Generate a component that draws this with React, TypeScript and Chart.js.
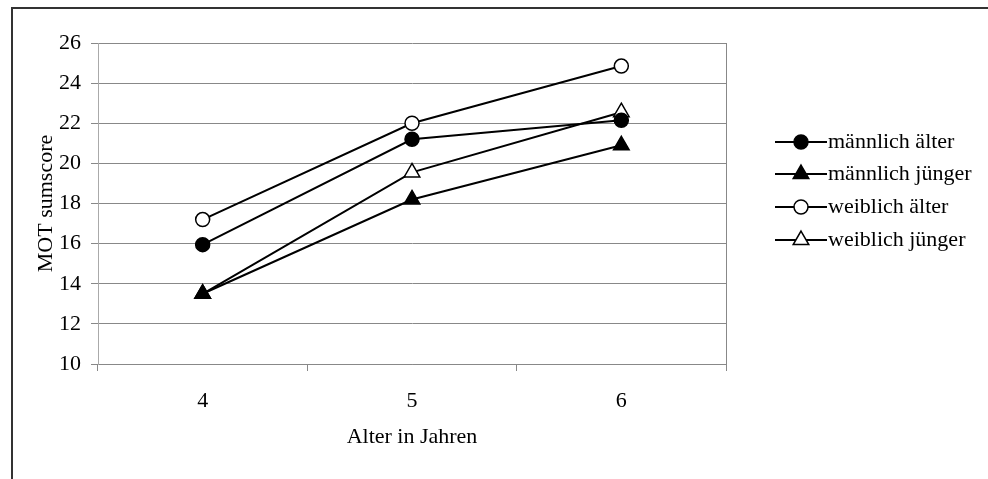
import React, { useEffect, useRef } from "react";
import { Chart, registerables } from "chart.js";

Chart.register(...registerables);

const categories = ["4", "5", "6"];
const maennlichAelter = [15.95, 21.2, 22.15];
const maennlichJuenger = [13.5, 18.2, 20.9];
const weiblichAelter = [17.2, 22.0, 24.85];
const weiblichJuenger = [13.5, 19.55, 22.55];
const seriesNames = ["männlich älter", "männlich jünger", "weiblich älter", "weiblich jünger"];

const W = 988;
const H = 479;
const FONT = "'Liberation Serif', 'Times New Roman', serif";
const FONT_SIZE = 22;

// Outer frame (left and top edges visible on the page)
const framePlugin = {
  id: "frame",
  beforeDraw(chart: any) {
    const ctx = chart.ctx;
    ctx.save();
    ctx.strokeStyle = "#333";
    ctx.lineWidth = 2;
    ctx.beginPath();
    ctx.moveTo(12, H + 2);
    ctx.lineTo(12, 8);
    ctx.lineTo(W + 2, 8);
    ctx.stroke();
    ctx.restore();
  },
  afterDraw(chart: any) {
    // right edge of the plot box
    const { ctx, chartArea } = chart;
    ctx.save();
    ctx.strokeStyle = "#888";
    ctx.lineWidth = 1;
    ctx.beginPath();
    ctx.moveTo(Math.round(chartArea.right) + 0.5, chartArea.top);
    ctx.lineTo(Math.round(chartArea.right) + 0.5, chartArea.bottom);
    ctx.stroke();
    ctx.restore();
  },
};

// Legend on the right: short line with the series marker in its middle
const lineLegendPlugin = {
  id: "lineLegend",
  afterDraw(chart: any) {
    const ctx = chart.ctx;
    const x0 = 775;
    const x1 = 827;
    const rows = [142, 174, 207, 240];
    ctx.save();
    chart.data.datasets.forEach((ds: any, i: number) => {
      const y = rows[i];
      ctx.strokeStyle = "#000";
      ctx.lineWidth = 2;
      ctx.beginPath();
      ctx.moveTo(x0, y);
      ctx.lineTo(x1, y);
      ctx.stroke();
      const cx = (x0 + x1) / 2;
      const r = ds.pointRadius;
      ctx.fillStyle = ds.pointBackgroundColor;
      ctx.lineWidth = ds.pointBorderWidth;
      ctx.beginPath();
      if (ds.pointStyle === "circle") {
        ctx.arc(cx, y, r, 0, Math.PI * 2);
      } else {
        let a = 0;
        ctx.moveTo(cx + Math.sin(a) * r, y - Math.cos(a) * r);
        a += (2 * Math.PI) / 3;
        ctx.lineTo(cx + Math.sin(a) * r, y - Math.cos(a) * r);
        a += (2 * Math.PI) / 3;
        ctx.lineTo(cx + Math.sin(a) * r, y - Math.cos(a) * r);
        ctx.closePath();
      }
      ctx.fill();
      ctx.stroke();
      ctx.fillStyle = "#000";
      ctx.font = `${FONT_SIZE}px ${FONT}`;
      ctx.textBaseline = "middle";
      ctx.textAlign = "left";
      ctx.fillText(ds.label, x1 + 1, y);
    });
    ctx.restore();
  },
};

export default function App() {
  const ref = useRef<HTMLCanvasElement | null>(null);

  useEffect(() => {
    if (!ref.current) return;
    const mk = (label: string, data: number[], style: string, filled: boolean, radius: number) => ({
      label,
      data,
      borderColor: "#000",
      borderWidth: 2,
      pointStyle: style,
      pointRadius: radius,
      pointBackgroundColor: filled ? "#000" : "#fff",
      pointBorderColor: "#000",
      pointBorderWidth: 1.5,
      fill: false,
      tension: 0,
    });
    const chart = new Chart(ref.current, {
      type: "line",
      data: {
        labels: categories,
        datasets: [
          mk(seriesNames[0], maennlichAelter, "circle", true, 7),
          mk(seriesNames[1], maennlichJuenger, "triangle", true, 9),
          mk(seriesNames[2], weiblichAelter, "circle", false, 7),
          mk(seriesNames[3], weiblichJuenger, "triangle", false, 9),
        ],
      },
      options: {
        responsive: false,
        animation: false,
        layout: { padding: { left: 0, top: 43, right: W - 726, bottom: 0 } },
        plugins: {
          legend: { display: false },
          tooltip: { enabled: false },
        },
        scales: {
          x: {
            type: "category",
            offset: true,
            grid: {
              offset: true,
              drawOnChartArea: false,
              drawTicks: true,
              tickLength: 7,
              color: "#888",
            },
            border: { color: "#888" },
            ticks: { color: "#000", font: { family: FONT, size: FONT_SIZE }, padding: 17 },
            title: {
              display: true,
              text: "Alter in Jahren",
              color: "#000",
              font: { family: FONT, size: FONT_SIZE },
              padding: { top: 0, bottom: 29 },
            },
            afterFit(scale: any) {
              scale.height = H - 364;
            },
          },
          y: {
            min: 10,
            max: 26,
            ticks: { stepSize: 2, color: "#000", font: { family: FONT, size: FONT_SIZE }, padding: 10 },
            grid: { color: "#888", tickLength: 7 },
            border: { color: "#aaa" },
            title: {
              display: true,
              text: "MOT sumscore",
              color: "#000",
              font: { family: FONT, size: FONT_SIZE },
              padding: { top: 33, bottom: 0 },
            },
            afterFit(scale: any) {
              scale.width = 98;
            },
          },
        },
      },
      plugins: [framePlugin, lineLegendPlugin],
    } as any);
    return () => chart.destroy();
  }, []);

  return (
    <div style={{ position: "absolute", left: 0, top: 0, width: W, height: H, background: "#fff" }}>
      <canvas ref={ref} width={W} height={H} style={{ display: "block" }} />
    </div>
  );
}
